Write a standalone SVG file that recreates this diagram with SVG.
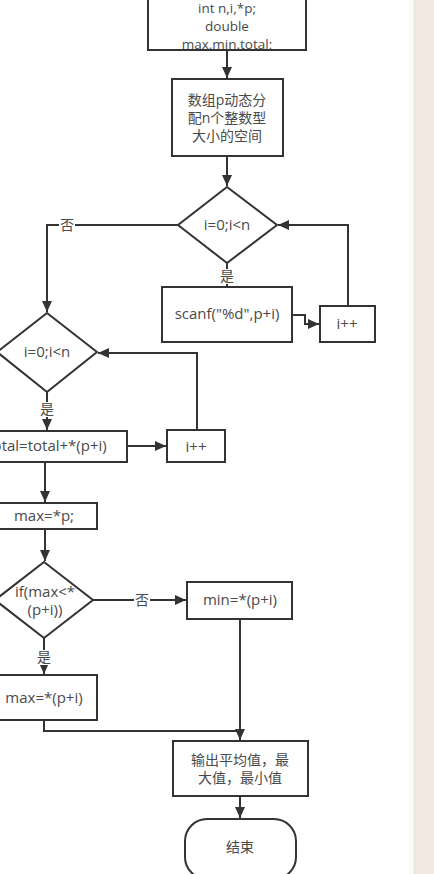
<svg xmlns="http://www.w3.org/2000/svg" width="434" height="874" viewBox="0 0 434 874">
<style>
.n{fill:#fff;stroke:#333;stroke-width:2}
.t{font-family:"Open Sans","Noto Sans CJK SC",sans-serif;font-size:14px;fill:#4a4a4a;text-anchor:middle}
.l{font-size:15px}
.s{font-size:13.5px}
.c{fill:none;stroke:#333;stroke-width:2}
.lb{fill:#fff}
</style>
<defs>
<marker id="a" markerUnits="userSpaceOnUse" markerWidth="12" markerHeight="12" refX="11" refY="6" orient="auto">
<path d="M0,1 L11,6 L0,11 z" fill="#333"/>
</marker>
</defs>
<rect x="0" y="0" width="434" height="874" fill="#fff"/>
<rect x="409" y="0" width="4.5" height="874" fill="#fcfcee"/>
<rect x="413.5" y="0" width="2.5" height="874" fill="#e7e7dc"/>
<rect x="416" y="0" width="18" height="874" fill="#f3ebe2"/>
<g id="connectors">
<path class="c" d="M227,50 V78" marker-end="url(#a)"/>
<path class="c" d="M227,156 V186" marker-end="url(#a)"/>
<path class="c" d="M178,225 H47 V312" marker-end="url(#a)"/>
<path class="c" d="M227,263 V286" marker-end="url(#a)"/>
<path class="c" d="M292,315 H305 V324 H319" marker-end="url(#a)"/>
<path class="c" d="M348,306 V225 H278" marker-end="url(#a)"/>
<path class="c" d="M47,392 V430" marker-end="url(#a)"/>
<path class="c" d="M127,446 H166" marker-end="url(#a)"/>
<path class="c" d="M197,430 V353 H98" marker-end="url(#a)"/>
<path class="c" d="M45,462 V502" marker-end="url(#a)"/>
<path class="c" d="M45,529 V561" marker-end="url(#a)"/>
<path class="c" d="M93,600 H186" marker-end="url(#a)"/>
<path class="c" d="M44,638 V674" marker-end="url(#a)"/>
<path class="c" d="M44,720 V731 H240"/>
<path class="c" d="M240,619 V740" marker-end="url(#a)"/>
<path class="c" d="M240,796 V818" marker-end="url(#a)"/>
<rect class="lb" x="59" y="217" width="16" height="16"/>
<text class="t" x="67" y="230">否</text>
<rect class="lb" x="219" y="269" width="16" height="15"/>
<text class="t" x="227" y="281">是</text>
<rect class="lb" x="39" y="402" width="16" height="15"/>
<text class="t" x="47" y="414">是</text>
<rect class="lb" x="134" y="592" width="16" height="16"/>
<text class="t" x="142" y="605">否</text>
<rect class="lb" x="36" y="650" width="16" height="15"/>
<text class="t" x="44" y="662">是</text>
</g>
<g id="decl">
<rect class="n" x="148" y="-5" width="158" height="55"/>
<text class="t s" x="227" y="13">int n,i,*p;</text>
<text class="t s" x="227" y="31">double</text>
<text class="t s" x="227" y="49">max.min.total;</text>
</g>
<g id="alloc">
<rect class="n" x="172" y="79" width="111" height="77"/>
<text class="t" x="227" y="105">数组p动态分</text>
<text class="t" x="227" y="123">配n个整数型</text>
<text class="t" x="227" y="141">大小的空间</text>
</g>
<g id="cond1">
<polygon class="n" points="227,187 277,225 227,263 178,225"/>
<text class="t l" x="227" y="230">i=0;i&lt;n</text>
</g>
<g id="scanf">
<rect class="n" x="162" y="287" width="130" height="55"/>
<text class="t l" x="227" y="319">scanf("%d",p+i)</text>
</g>
<g id="inc1">
<rect class="n" x="320" y="306" width="55" height="36"/>
<text class="t l" x="347" y="329">i++</text>
</g>
<g id="cond2">
<polygon class="n" points="47,313 97,352 47,392 -3,352"/>
<text class="t l" x="47" y="357">i=0;i&lt;n</text>
</g>
<g id="sum">
<rect class="n" x="-33" y="431" width="160" height="31"/>
<text class="t l" x="47" y="451">total=total+*(p+i)</text>
</g>
<g id="inc2">
<rect class="n" x="167" y="430" width="58" height="32"/>
<text class="t l" x="196" y="452">i++</text>
</g>
<g id="maxinit">
<rect class="n" x="-7" y="503" width="104" height="26"/>
<text class="t l" x="44" y="521">max=*p;</text>
</g>
<g id="cond3">
<polygon class="n" points="44,562 93,600 44,638 -5,600"/>
<text class="t l" x="45" y="597">if(max&lt;*</text>
<text class="t l" x="45" y="615">(p+i))</text>
</g>
<g id="minset">
<rect class="n" x="187" y="582" width="105" height="37"/>
<text class="t l" x="240" y="605">min=*(p+i)</text>
</g>
<g id="maxset">
<rect class="n" x="-9" y="675" width="106" height="45"/>
<text class="t l" x="44" y="703">max=*(p+i)</text>
</g>
<g id="output">
<rect class="n" x="173" y="741" width="135" height="55"/>
<text class="t" x="240" y="765">输出平均值，最</text>
<text class="t" x="240" y="783">大值，最小值</text>
</g>
<g id="end">
<rect class="n" x="185" y="819" width="111" height="60" rx="22" ry="22"/>
<text class="t" x="240" y="852">结束</text>
</g>
</svg>
